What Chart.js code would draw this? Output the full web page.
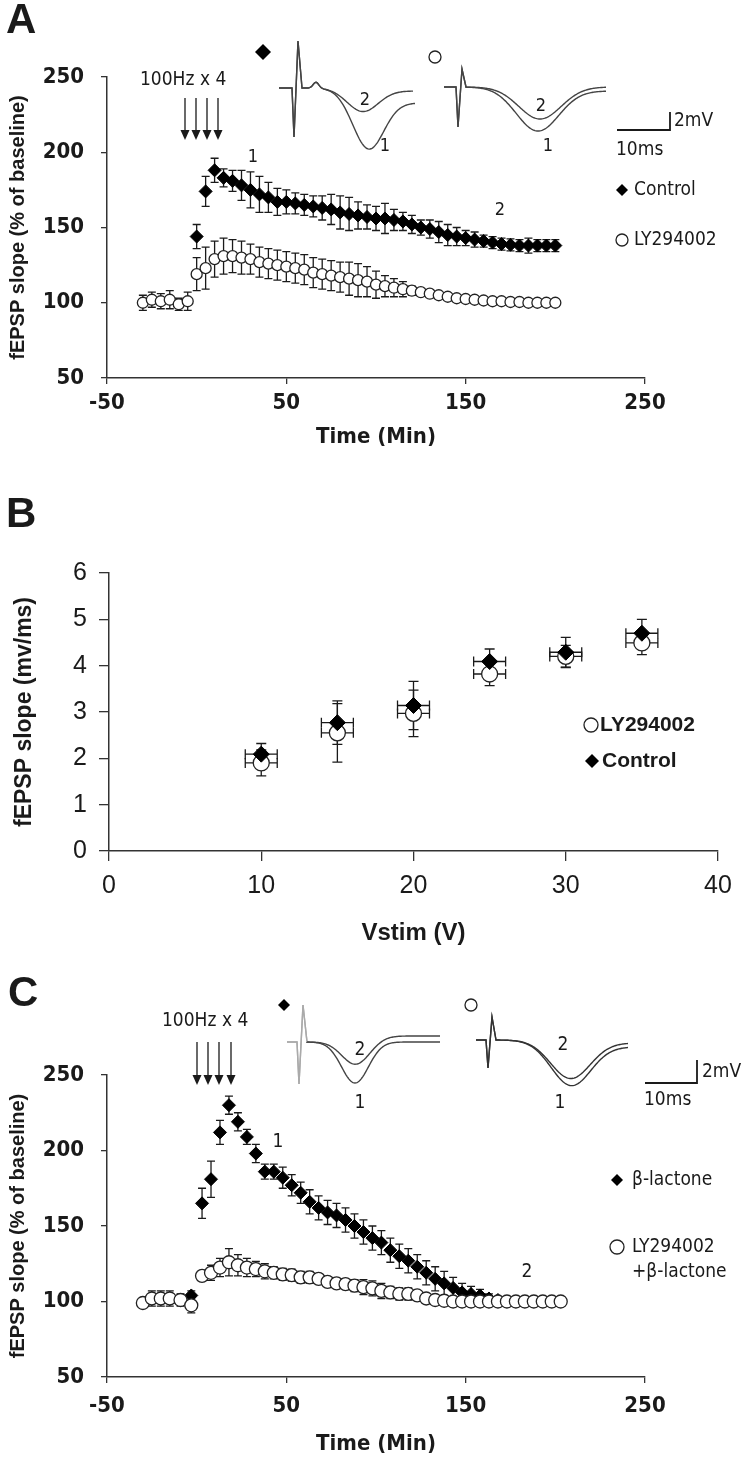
<!DOCTYPE html>
<html>
<head>
<meta charset="utf-8">
<script src="https://cdn.jsdelivr.net/npm/chart.js@4.4.1/dist/chart.umd.min.js"></script>
<style>
  body { margin: 0; background: #fff; width: 750px; height: 1463px; position: relative; overflow: hidden; }
  canvas { position: absolute; left: 0; }
</style>
</head>
<body>
<canvas id="chartA" width="750" height="470" style="top:0px"></canvas>
<canvas id="chartB" width="750" height="480" style="top:470px"></canvas>
<canvas id="chartC" width="750" height="513" style="top:950px"></canvas>
<script>
// ---- panel A : LTP time course, control vs LY294002 ----
const timeA = [-30,-25,-20,-15,-10,-5,
  0,5,10,15,20,25,30,35,40,45,50,55,60,65,70,75,80,85,90,95,100,
  105,110,115,120,125,130,135,140,145,150,155,160,165,170,175,180,185,190,195,200];
const lyA = [100,102,101,102,99,101,
  119,123,129,131,131,130,129,127,126,125,124,123,122,120,119,118,117,116,115,114,112,
  111,110,109,108,107,106,105,104,103,102.5,102,101.5,101,101,100.5,100.5,100,100,100,100];
const lyAErr = [5,5,5,6,4,6,
  11,14,12,12,11,11,10,10,10,10,10,10,10,10,10,10,10,11,11,10,9,
  7,6,5,3,2,1.5,1.5,1,1,1,1,1,1,1,1,1,1,1,1,1];
const ctlA = [null,null,null,null,null,null,
  144,174,188,183,181,178,175,172,170,167,167,166,165,164,163,162,160,159,158,157,156,
  156,155,154,152,150,149,147,145,144,143,142,141,140,139,138.5,138,138,138,138,138];
const ctlAErr = [0,0,0,0,0,0,
  8,10,8,6,7,10,12,12,10,9,8,7,7,7,8,10,11,11,9,8,8,
  10,7,6,6,5,6,7,7,6,5,5,4,4,4,4,4,5,4,4,4];

// ---- panel B : input/output ----
const vstim = [10,15,20,25,30,35];
const vstimErr = [1.05,1.05,1.05,1.05,1.05,1.05];
const lyB = [1.9,2.55,2.97,3.82,4.2,4.49];
const lyBErr = [0.28,0.63,0.5,0.25,0.24,0.25];
const ctlB = [2.09,2.77,3.14,4.09,4.29,4.7];
const ctlBErr = [0.23,0.47,0.52,0.27,0.32,0.3];

// ---- panel C : beta-lactone vs LY294002 + beta-lactone ----
const timeC = [-30,-25,-20,-15,-9,-3,
  3,8,13,18,23,28,33,38,43,48,53,58,63,68,73,78,83,88,93,98,103,
  108,113,118,123,128,133,138,143,148,153,158,163,168,173,178,183,188,193,198,203];
const lyC = [99,102,102,102,101,97.5,
  117,119,122.5,126,124,122.5,121.5,120,119,118,117.5,116,116,115,113,112,111.5,110.5,109.5,108.7,107,
  106,105,105,104,102,101,100.5,100,100,100,100,100,100,100,100,100,100,100,100,100];
const lyCErr = [3,5,5,5,4,5,
  3,5,6,9,7,6,5,5,4,4,4,4,4,3,3,3,3,4,5,5,5,
  4,4,4,3,2,1,1,1,1,1,1,1,1,1,1,1,1,1,1,1];
const ctlC = [null,null,null,null,null,104,
  165,181,212,230,219,209,198,186,186,182,177,172,166,162,159,157,154,150,146,142,139,
  134,130,127,123,119,115,112,109,106,105,104,102,101,null,null,null,null,null,null,null];
const ctlCErr = [0,0,0,0,0,3,
  10,12,8,6,6,5,6,5,5,7,7,7,8,8,8,8,8,8,8,8,8,
  8,8,8,8,8,8,8,7,6,5,4,3,2,0,0,0,0,0,0,0];

const NARROW = '"Liberation Sans Narrow", "DejaVu Sans Condensed", "Arial Narrow", sans-serif';
const SANS = '"Liberation Sans", Arial, Helvetica, sans-serif';
const INK = '#1a1a1a';

function pts(xs, ys) {
  const out = [];
  xs.forEach((x, i) => { if (ys[i] !== null) out.push({x: x, y: ys[i]}); });
  return out;
}
function errs(ys, e) {
  const out = [];
  ys.forEach((y, i) => { if (y !== null) out.push(e[i]); });
  return out;
}

// error bars drawn behind the markers, through the chart scales
const errorBars = {
  id: 'errorBars',
  beforeDatasetsDraw(chart) {
    const ctx = chart.ctx, xs = chart.scales.x, ys = chart.scales.y;
    chart.data.datasets.forEach(ds => {
      const cap = ds.cap || 4;
      ctx.save();
      ctx.strokeStyle = INK;
      ctx.lineWidth = 1.3;
      ds.data.forEach((p, j) => {
        const px = xs.getPixelForValue(p.x), py = ys.getPixelForValue(p.y);
        ctx.beginPath();
        if (ds.errY && ds.errY[j]) {
          const t = ys.getPixelForValue(p.y + ds.errY[j]), b = ys.getPixelForValue(p.y - ds.errY[j]);
          ctx.moveTo(px, t); ctx.lineTo(px, b);
          ctx.moveTo(px - cap, t); ctx.lineTo(px + cap, t);
          ctx.moveTo(px - cap, b); ctx.lineTo(px + cap, b);
        }
        if (ds.errX && ds.errX[j]) {
          const l = xs.getPixelForValue(p.x - ds.errX[j]), r = xs.getPixelForValue(p.x + ds.errX[j]);
          ctx.moveTo(l, py); ctx.lineTo(r, py);
          ctx.moveTo(l, py - cap); ctx.lineTo(l, py + cap);
          ctx.moveTo(r, py - cap); ctx.lineTo(r, py + cap);
        }
        ctx.stroke();
      });
      ctx.restore();
    });
  }
};

// little drawing helpers for the annotations
function diamond(ctx, x, y, r) {
  ctx.beginPath();
  ctx.moveTo(x, y - r); ctx.lineTo(x + r, y); ctx.lineTo(x, y + r); ctx.lineTo(x - r, y);
  ctx.closePath(); ctx.fillStyle = '#000'; ctx.fill();
}
function ring(ctx, x, y, r) {
  ctx.beginPath(); ctx.arc(x, y, r, 0, Math.PI * 2);
  ctx.fillStyle = '#fff'; ctx.fill();
  ctx.lineWidth = 1.3; ctx.strokeStyle = '#222'; ctx.stroke();
}
function text(ctx, s, x, y, font, align) {
  ctx.font = font; ctx.fillStyle = INK;
  ctx.textAlign = align || 'left'; ctx.textBaseline = 'middle';
  ctx.fillText(s, x, y);
}
function arrows(ctx, xs, y1, y2) {
  ctx.strokeStyle = INK; ctx.fillStyle = INK; ctx.lineWidth = 1.3;
  xs.forEach(x => {
    ctx.beginPath(); ctx.moveTo(x, y1); ctx.lineTo(x, y2 - 8); ctx.stroke();
    ctx.beginPath(); ctx.moveTo(x - 4.5, y2 - 10); ctx.lineTo(x + 4.5, y2 - 10); ctx.lineTo(x, y2);
    ctx.closePath(); ctx.fill();
  });
}
// schematic field potential trace: stimulus artefact then a negative dip
function trace(ctx, t, color, artColor) {
  ctx.lineWidth = 1.4;
  ctx.strokeStyle = artColor || color;
  ctx.beginPath();
  ctx.moveTo(t.x0, t.y0);
  ctx.lineTo(t.ax - 2, t.y0);
  ctx.lineTo(t.ax, t.y0 + t.down);
  ctx.lineTo(t.ax + 4, t.y0 - t.up);
  ctx.lineTo(t.ax + 8, t.y0);
  ctx.stroke();
  ctx.strokeStyle = color;
  ctx.beginPath();
  ctx.moveTo(t.ax + 8, t.y0);
  for (let x = t.ax + 8; x <= t.x1; x++) {
    const u = (x - t.cx) / t.w;
    let y = t.y0 + t.depth * Math.exp(-u * u) + t.end / (1 + Math.exp(-3 * u));
    if (t.bump) { const v = (x - t.bump[0]) / 4; y -= t.bump[1] * Math.exp(-v * v); }
    ctx.lineTo(x, y);
  }
  ctx.stroke();
}
function scaleBar(ctx, x1, x2, y, yTop) {
  ctx.strokeStyle = INK; ctx.lineWidth = 1.8;
  ctx.beginPath(); ctx.moveTo(x1, y); ctx.lineTo(x2, y); ctx.lineTo(x2, yTop); ctx.stroke();
}

const decorA = {
  id: 'decorA',
  afterDraw(chart) {
    const ctx = chart.ctx;
    ctx.save();
    text(ctx, 'A', 6, 21, 'bold 42px ' + SANS);
    text(ctx, '100Hz x 4', 140, 80, '19px ' + NARROW);
    arrows(ctx, [185, 196, 207, 218], 98, 140);
    text(ctx, '1', 253, 157, '18px ' + NARROW, 'center');
    text(ctx, '2', 500, 210, '18px ' + NARROW, 'center');
    diamond(ctx, 263, 52, 8);
    ring(ctx, 435, 57, 6);
    trace(ctx, {x0: 279, x1: 413, y0: 88, ax: 294, down: 49, up: 47, cx: 362, depth: 22, w: 22, end: 3, bump: [316, 6]}, '#444');
    trace(ctx, {x0: 279, x1: 415, y0: 88, ax: 294, down: 49, up: 47, cx: 367, depth: 53, w: 22, end: 15, bump: [316, 6]}, '#444');
    trace(ctx, {x0: 444, x1: 606, y0: 87, ax: 458, down: 40, up: 18, cx: 540, depth: 32, w: 30, end: 0}, '#444');
    trace(ctx, {x0: 444, x1: 606, y0: 87, ax: 458, down: 40, up: 18, cx: 537, depth: 42, w: 30, end: 4}, '#444');
    text(ctx, '2', 365, 100, '18px ' + NARROW, 'center');
    text(ctx, '1', 385, 146, '18px ' + NARROW, 'center');
    text(ctx, '2', 541, 106, '18px ' + NARROW, 'center');
    text(ctx, '1', 548, 146, '18px ' + NARROW, 'center');
    scaleBar(ctx, 617, 670, 130, 112);
    text(ctx, '2mV', 674, 121, '19px ' + NARROW);
    text(ctx, '10ms', 616, 150, '19px ' + NARROW);
    diamond(ctx, 622, 190, 6);
    text(ctx, 'Control', 634, 190, '19px ' + NARROW);
    ring(ctx, 622, 240, 6);
    text(ctx, 'LY294002', 634, 240, '19px ' + NARROW);
    ctx.restore();
  }
};

const decorB = {
  id: 'decorB',
  afterDraw(chart) {
    const ctx = chart.ctx;
    ctx.save();
    text(ctx, 'B', 6, 45, 'bold 42px ' + SANS);
    ring(ctx, 591, 255, 7);
    text(ctx, 'LY294002', 600, 255, 'bold 21px ' + SANS);
    diamond(ctx, 592, 291, 7);
    text(ctx, 'Control', 602, 291, 'bold 21px ' + SANS);
    ctx.restore();
  }
};

const decorC = {
  id: 'decorC',
  afterDraw(chart) {
    const ctx = chart.ctx;
    ctx.save();
    text(ctx, 'C', 8, 44, 'bold 42px ' + SANS);
    text(ctx, '100Hz x 4', 162, 71, '19px ' + NARROW);
    arrows(ctx, [197, 208, 219, 231], 92, 135);
    diamond(ctx, 284, 55, 6);
    ring(ctx, 471, 55, 6);
    trace(ctx, {x0: 287, x1: 440, y0: 92, ax: 299, down: 42, up: 37, cx: 357, depth: 25, w: 20, end: -6}, '#444', '#aaa');
    trace(ctx, {x0: 287, x1: 440, y0: 92, ax: 299, down: 42, up: 37, cx: 355, depth: 41, w: 19, end: 0}, '#444', '#aaa');
    trace(ctx, {x0: 476, x1: 628, y0: 90, ax: 488, down: 28, up: 23, cx: 570, depth: 37, w: 28, end: 3}, '#333');
    trace(ctx, {x0: 476, x1: 628, y0: 90, ax: 488, down: 28, up: 23, cx: 570, depth: 42, w: 28, end: 7}, '#333');
    text(ctx, '2', 360, 100, '19px ' + NARROW, 'center');
    text(ctx, '1', 360, 153, '19px ' + NARROW, 'center');
    text(ctx, '2', 563, 95, '19px ' + NARROW, 'center');
    text(ctx, '1', 560, 153, '19px ' + NARROW, 'center');
    scaleBar(ctx, 645, 697, 133, 110);
    text(ctx, '2mV', 702, 122, '19px ' + NARROW);
    text(ctx, '10ms', 644, 150, '19px ' + NARROW);
    text(ctx, '1', 278, 192, '19px ' + NARROW, 'center');
    text(ctx, '2', 527, 322, '19px ' + NARROW, 'center');
    diamond(ctx, 617, 230, 6);
    text(ctx, '\u03b2-lactone', 632, 230, '19px ' + NARROW);
    ring(ctx, 617, 297, 7);
    text(ctx, 'LY294002', 632, 297, '19px ' + NARROW);
    text(ctx, '+\u03b2-lactone', 632, 322, '19px ' + NARROW);
    ctx.restore();
  }
};

function axisStyle(tickLen) {
  return {
    border: { display: true, color: '#333', width: 1.5 },
    grid: { display: true, drawOnChartArea: false, drawTicks: true, tickLength: tickLen, color: '#333', lineWidth: 1.3 }
  };
}

function timeChart(id, datasets, padTop, padBottom, tickPad, titlePad, yTitle, decor) {
  return new Chart(document.getElementById(id), {
    type: 'scatter',
    data: { datasets: datasets },
    options: {
      responsive: false,
      animation: false,
      layout: { padding: { left: 4, right: 105, top: padTop, bottom: padBottom } },
      plugins: { legend: { display: false }, tooltip: { enabled: false } },
      scales: {
        x: Object.assign({
          type: 'linear', min: -50, max: 250,
          ticks: { stepSize: 100, padding: tickPad, color: INK, font: { family: NARROW, size: 22, weight: 'bold' } },
          title: { display: true, text: 'Time (Min)', color: INK, padding: { top: 0, bottom: titlePad },
                   font: { family: NARROW, size: 22, weight: 'bold' } },
          afterFit(s) { s.height = 80; }
        }, axisStyle(6)),
        y: Object.assign({
          min: 50, max: 250,
          ticks: { stepSize: 50, padding: 17, color: INK, font: { family: NARROW, size: 22, weight: 'bold' } },
          title: { display: true, text: yTitle, color: INK, padding: { top: 2, bottom: 0 },
                   font: { family: SANS, size: 20, weight: 'bold' } },
          afterFit(s) { s.width = 103; }
        }, axisStyle(6))
      }
    },
    plugins: [errorBars, decor]
  });
}

const lyStyle = { pointStyle: 'circle', backgroundColor: '#fff', borderColor: '#222', borderWidth: 1.3 };
const ctlStyle = { pointStyle: 'rectRot', backgroundColor: '#000', borderColor: '#000', borderWidth: 1 };

timeChart('chartA', [
  Object.assign({ label: 'LY294002', data: pts(timeA, lyA), errY: errs(lyA, lyAErr), pointRadius: 5.5 }, lyStyle),
  Object.assign({ label: 'Control', data: pts(timeA, ctlA), errY: errs(ctlA, ctlAErr), pointRadius: 6.5 }, ctlStyle)
], 77, 12, 6, 8, 'fEPSP slope (% of baseline)', decorA);

timeChart('chartC', [
  Object.assign({ label: 'LY294002 +\u03b2-lactone', data: pts(timeC, lyC), errY: errs(lyC, lyCErr), pointRadius: 6.5 }, lyStyle),
  Object.assign({ label: '\u03b2-lactone', data: pts(timeC, ctlC), errY: errs(ctlC, ctlCErr), pointRadius: 6.5 }, ctlStyle)
], 125, 6, 10, 0, 'fEPSP slope (% of baseline)', decorC);

new Chart(document.getElementById('chartB'), {
  type: 'scatter',
  data: {
    datasets: [
      Object.assign({ label: 'Control', data: pts(vstim, ctlB), errY: ctlBErr, errX: vstimErr, cap: 5, pointRadius: 8 }, ctlStyle),
      Object.assign({ label: 'LY294002', data: pts(vstim, lyB), errY: lyBErr, errX: vstimErr, cap: 5, pointRadius: 8 }, lyStyle)
    ]
  },
  options: {
    responsive: false,
    animation: false,
    layout: { padding: { left: 4, right: 32, top: 103, bottom: 2 } },
    plugins: { legend: { display: false }, tooltip: { enabled: false } },
    scales: {
      x: Object.assign({
        type: 'linear', min: 0, max: 40,
        ticks: { stepSize: 10, padding: 10, color: INK, font: { family: SANS, size: 25 } },
        title: { display: true, text: 'Vstim (V)', color: INK, padding: { top: 0, bottom: 0 },
                 font: { family: SANS, size: 24, weight: 'bold' } },
        afterFit(s) { s.height = 97; }
      }, axisStyle(10)),
      y: Object.assign({
        min: 0, max: 6,
        ticks: { stepSize: 1, padding: 12, color: INK, font: { family: SANS, size: 25 } },
        title: { display: true, text: 'fEPSP slope (mv/ms)', color: INK, padding: { top: 7, bottom: 0 },
                 font: { family: SANS, size: 23, weight: 'bold' } },
        afterFit(s) { s.width = 105; }
      }, axisStyle(10))
    }
  },
  plugins: [errorBars, decorB]
});
</script>
</body>
</html>
